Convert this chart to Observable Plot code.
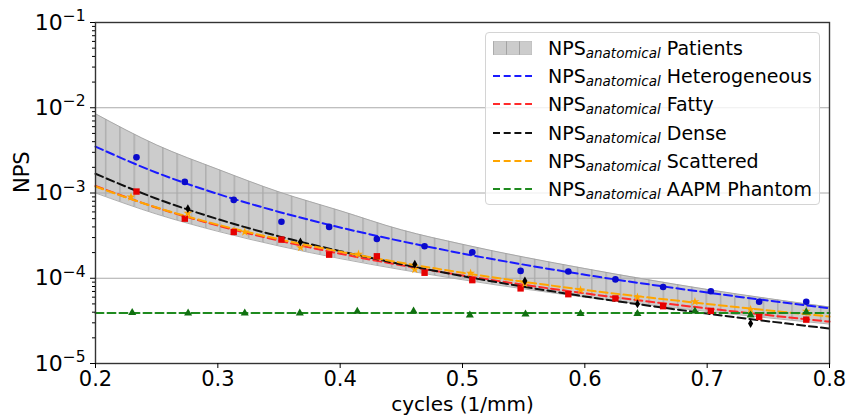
<!DOCTYPE html>
<html><head><meta charset="utf-8">
<script src="https://cdn.jsdelivr.net/npm/d3@7"></script>
<script src="https://cdn.jsdelivr.net/npm/@observablehq/plot@0.6"></script>
<style>
body{margin:0;background:#fff;font-family:"DejaVu Sans",sans-serif;}
#wrap{position:relative;width:846px;height:419px;}
#legend{position:absolute;left:485px;top:32px;width:335px;height:173px;box-sizing:border-box;border:1px solid #d4d4d4;border-radius:4px;background:rgba(255,255,255,0.8);}
.row{position:absolute;left:0;height:28px;display:flex;align-items:center;white-space:nowrap;}
.row svg{margin-left:7px;margin-right:16px;}
.lbl{font-size:19px;color:#000;}
.sub{font-size:13.5px;font-style:italic;position:relative;top:3px;}
</style></head>
<body>
<svg width="0" height="0" style="position:absolute"><defs>
<pattern id="hatch" patternUnits="userSpaceOnUse" width="14.3" height="10"><rect width="14.3" height="10" fill="#cccccc"/><line x1="5.6" x2="5.6" y1="0" y2="10" stroke="#a0a0a0" stroke-width="1"/></pattern>
<pattern id="hatchL" patternUnits="userSpaceOnUse" width="13" height="10"><rect width="13" height="10" fill="#cccccc"/><line x1="0.5" x2="0.5" y1="0" y2="10" stroke="#a3a3a3" stroke-width="1"/></pattern>
</defs></svg>
<div id="wrap"><div id="legend"></div></div>
<script>
// ---- data ----
const fitX        = [0.2, 0.25, 0.3, 0.35, 0.4, 0.45, 0.5, 0.6, 0.7, 0.8];
const patientsLow = [1.0e-3, 5.65e-4, 3.55e-4, 2.39e-4, 1.70e-4, 1.26e-4, 9.6e-5, 6.0e-5, 4.08e-5, 2.9e-5];
const patientsHigh= [8.5e-3, 3.66e-3, 1.9e-3, 1.03e-3, 6.2e-4, 3.7e-4, 2.5e-4, 1.3e-4, 7.4e-5, 4.6e-5];
const fitHetero   = [3.5e-3, 1.73e-3, 9.75e-4, 6.0e-4, 3.94e-4, 2.72e-4, 1.95e-4, 1.10e-4, 6.8e-5, 4.45e-5];
const fitFatty    = [1.21e-3, 6.72e-4, 4.15e-4, 2.76e-4, 1.94e-4, 1.42e-4, 1.08e-4, 6.65e-5, 4.43e-5, 3.1e-5];
const fitDense    = [1.68e-3, 8.57e-4, 4.94e-4, 3.1e-4, 2.08e-4, 1.46e-4, 1.06e-4, 6.12e-5, 3.85e-5, 2.57e-5];
const fitScatter  = [1.19e-3, 6.75e-4, 4.25e-4, 2.87e-4, 2.05e-4, 1.52e-4, 1.16e-4, 7.3e-5, 5.0e-5, 3.55e-5];
const fitAAPM     = [3.9e-5, 3.9e-5, 3.9e-5, 3.9e-5, 3.9e-5, 3.9e-5, 3.9e-5, 3.9e-5, 3.9e-5, 3.9e-5];

const xA = [0.2335, 0.273, 0.313, 0.352, 0.391, 0.430, 0.469, 0.508, 0.5475, 0.5865, 0.625, 0.664, 0.703, 0.7425, 0.781];
const heteroPts = [2.62e-3, 1.35e-3, 8.3e-4, 4.6e-4, 4.0e-4, 2.89e-4, 2.37e-4, 2.02e-4, 1.22e-4, 1.20e-4, 9.7e-5, 7.9e-5, 7.05e-5, 5.3e-5, 5.3e-5];
const fattyPts  = [1.04e-3, 5.0e-4, 3.49e-4, 2.84e-4, 1.89e-4, 1.81e-4, 1.16e-4, 9.5e-5, 7.6e-5, 6.5e-5, 5.8e-5, 4.7e-5, 4.14e-5, 3.52e-5, 3.27e-5];
const xD = [0.2755, 0.3675, 0.461, 0.551, 0.643, 0.7355];
const densePts  = [6.55e-4, 2.67e-4, 1.46e-4, 9.3e-5, 5.0e-5, 2.94e-5];
const xS = [0.229, 0.2755, 0.322, 0.3676, 0.415, 0.461, 0.5066, 0.551, 0.5965, 0.643, 0.690, 0.7355, 0.781];
const scatterPts= [9.0e-4, 5.8e-4, 3.5e-4, 2.29e-4, 1.91e-4, 1.27e-4, 1.15e-4, 8.7e-5, 7.3e-5, 6.0e-5, 5.3e-5, 4.3e-5, 4.1e-5];
const xG = [0.230, 0.2757, 0.322, 0.367, 0.414, 0.460, 0.506, 0.5515, 0.5965, 0.643, 0.690, 0.7355, 0.781];
const aapmPts   = [3.95e-5, 3.9e-5, 3.9e-5, 3.9e-5, 4.07e-5, 4.1e-5, 3.68e-5, 3.8e-5, 3.85e-5, 3.85e-5, 4.1e-5, 3.7e-5, 4.0e-5];

const xTicks = [0.2, 0.3, 0.4, 0.5, 0.6, 0.7, 0.8];
const yTicks = [1e-5, 1e-4, 1e-3, 1e-2, 1e-1];
const yTickExp = ["−5", "−4", "−3", "−2", "−1"];
const seriesNames = ["Patients", "Heterogeneous", "Fatty", "Dense", "Scattered", "AAPM Phantom"];
const seriesColors = ["#cccccc", "#1a1aff", "#ff2a2a", "#111111", "#ffa500", "#1e8a1e"];
const markerColors = ["#0a0acc", "#e60000", "#000000", "#ffa500", "#107010"];

// ---- tables ----
const band = fitX.map((x, i) => ({x, lo: patientsLow[i], hi: patientsHigh[i]}));
const fitTable = (ys) => fitX.map((x, i) => ({x, y: ys[i]}));
const ptTable = (xs, ys) => xs.map((x, i) => ({x, y: ys[i]}));
const minor = [];
for (const d of yTicks.slice(0, -1)) for (let k = 2; k <= 9; k++) minor.push(k * d);

const dash = {strokeWidth: 2, strokeDasharray: "8,4", curve: "monotone-x"};

const chart = Plot.plot({
  width: 846, height: 419,
  marginLeft: 95, marginRight: 17, marginTop: 22, marginBottom: 56,
  style: {fontFamily: "DejaVu Sans, sans-serif", fontSize: "22px", background: "white", color: "#000"},
  x: {domain: [0.2, 0.8]},
  y: {type: "log", domain: [1e-5, 1e-1]},
  marks: [
    Plot.areaY(band, {x: "x", y1: "lo", y2: "hi", fill: "url(#hatch)", curve: "monotone-x"}),
    Plot.line(band, {x: "x", y: "hi", stroke: "#9c9c9c", strokeWidth: 0.8, curve: "monotone-x"}),
    Plot.line(band, {x: "x", y: "lo", stroke: "#9c9c9c", strokeWidth: 0.8, curve: "monotone-x"}),
    Plot.ruleY(yTicks.slice(1, -1), {stroke: "#aaaaaa", strokeWidth: 1}),
    Plot.line(fitTable(fitHetero), {x: "x", y: "y", stroke: seriesColors[1], ...dash}),
    Plot.line(fitTable(fitFatty), {x: "x", y: "y", stroke: seriesColors[2], ...dash}),
    Plot.line(fitTable(fitDense), {x: "x", y: "y", stroke: seriesColors[3], ...dash}),
    Plot.line(fitTable(fitScatter), {x: "x", y: "y", stroke: seriesColors[4], ...dash}),
    Plot.line(fitTable(fitAAPM), {x: "x", y: "y", stroke: seriesColors[5], ...dash}),
    Plot.dot(ptTable(xA, heteroPts), {x: "x", y: "y", r: 3.3, symbol: "circle", fill: markerColors[0]}),
    Plot.dot(ptTable(xA, fattyPts), {x: "x", y: "y", r: 3.6, symbol: "square", fill: markerColors[1]}),
    Plot.dot(ptTable(xS, scatterPts), {x: "x", y: "y", r: 2.8, symbol: "star", fill: markerColors[3]}),
    Plot.dot(ptTable(xD, densePts), {x: "x", y: "y", r: 2.7, symbol: "diamond", fill: markerColors[2]}),
    Plot.dot(ptTable(xG, aapmPts), {x: "x", y: "y", r: 3.0, symbol: "triangle", fill: markerColors[4]}),
    Plot.frame({stroke: "#333", strokeWidth: 1.4}),
    Plot.axisX(xTicks, {tickFormat: d => d.toFixed(1), tickSize: 5, tickPadding: 3, fontSize: 21, label: null}),
    Plot.axisY(yTicks, {tickFormat: (d, i) => "10^" + d, tickSize: 5, tickPadding: 5, fontSize: 22, label: null}),
    Plot.axisY(minor, {tickFormat: () => "", tickSize: 3, label: null}),
    Plot.text(["cycles (1/mm)"], {frameAnchor: "bottom", dy: 47, fontSize: 20}),
    Plot.text(["NPS"], {frameAnchor: "left", dx: -73, rotate: -90, fontSize: 21})
  ]
});
document.getElementById("wrap").prepend(chart);

// superscript exponents on y tick labels
const labels = chart.querySelectorAll('g[aria-label="y-axis tick label"] text');
labels.forEach(t => {
  const s = t.textContent;
  if (!s.startsWith("10^")) return;
  const v = +s.slice(3);
  const idx = yTicks.findIndex(d => Math.abs(d - v) / d < 1e-6);
  t.textContent = "10";
  const ts = document.createElementNS("http://www.w3.org/2000/svg", "tspan");
  ts.setAttribute("dy", "-8.5");
  ts.setAttribute("font-size", "15.5");
  ts.textContent = yTickExp[idx];
  t.appendChild(ts);
});

// legend
const legend = document.getElementById("legend");
seriesNames.forEach((name, i) => {
  const row = document.createElement("div");
  row.className = "row";
  row.style.top = (0.7 + 28.3 * i) + "px";
  let handle;
  if (i === 0) {
    handle = `<svg width="39" height="14"><rect x="0" y="0" width="39" height="14" fill="url(#hatchL)" stroke="#b8b8b8" stroke-width="0.8"/></svg>`;
  } else {
    handle = `<svg width="39" height="14"><line x1="0" x2="39" y1="7" y2="7" stroke="${seriesColors[i]}" stroke-width="2" stroke-dasharray="7,3.7"/></svg>`;
  }
  row.innerHTML = handle + `<span class="lbl">NPS<span class="sub">anatomical</span> ${name}</span>`;
  legend.appendChild(row);
});
</script>
</body></html>
